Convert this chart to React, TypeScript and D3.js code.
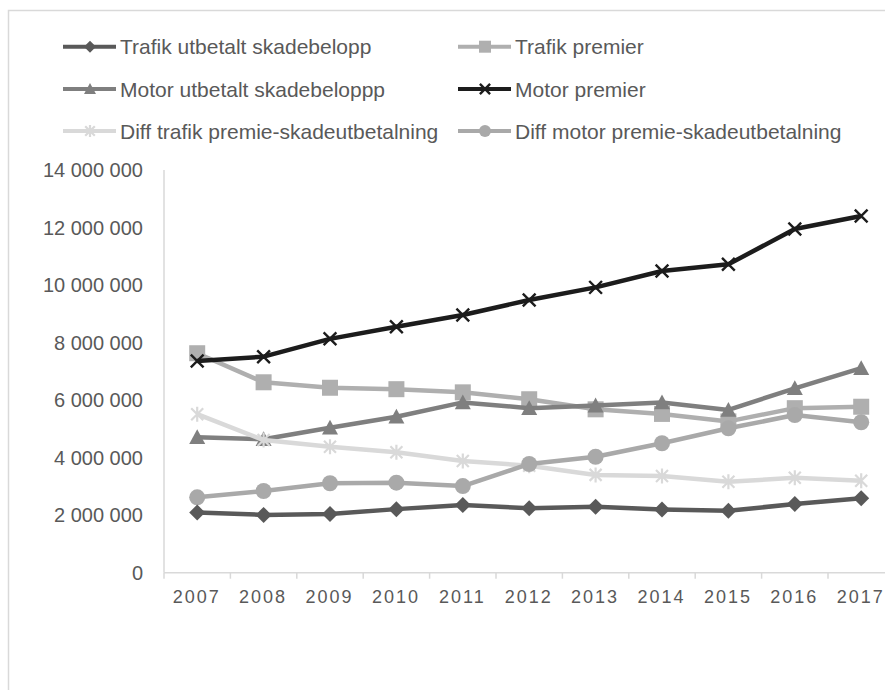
import React from "react";
import * as d3 from "d3";

const years = ["2007","2008","2009","2010","2011","2012","2013","2014","2015","2016","2017"];
const trafikUtbetalt = [2090000,2010000,2040000,2210000,2350000,2240000,2290000,2200000,2150000,2390000,2590000];
const trafikPremier = [7630000,6620000,6430000,6380000,6270000,6030000,5680000,5520000,5260000,5720000,5770000];
const motorUtbetalt = [4710000,4640000,5040000,5420000,5920000,5720000,5810000,5920000,5660000,6410000,7110000];
const motorPremier = [7360000,7510000,8130000,8550000,8960000,9480000,9920000,10490000,10720000,11950000,12400000];
const diffTrafik = [5510000,4610000,4380000,4190000,3880000,3720000,3400000,3360000,3160000,3300000,3200000];
const diffMotor = [2620000,2840000,3110000,3130000,3010000,3780000,4030000,4500000,5020000,5480000,5230000];
const yTicks = [0,2000000,4000000,6000000,8000000,10000000,12000000,14000000];

type Marker = "diamond"|"square"|"triangle"|"x"|"star"|"circle";
const seriesNames = [
  "Trafik utbetalt skadebelopp","Trafik premier",
  "Motor utbetalt skadebeloppp","Motor premier",
  "Diff trafik premie-skadeutbetalning","Diff motor premie-skadeutbetalning",
];
const seriesValues = [trafikUtbetalt, trafikPremier, motorUtbetalt, motorPremier, diffTrafik, diffMotor];
const seriesColors = ["#595959","#afafaf","#7f7f7f","#1c1c1c","#d9d9d9","#a9a9a9"];
const seriesMarkers: Marker[] = ["diamond","square","triangle","x","star","circle"];
// draw order (back to front)
const drawOrder = [1,2,4,5,0,3];

const W = 885, H = 690;
const plotLeft = 164, plotTop = 170, plotBottom = 572.7;
const bandW = 66.4;

function fmt(v: number) {
  return d3.format(",")(v).replace(/,/g, " ");
}

function MarkerShape({ type, x, y, color, s }: { type: Marker; x: number; y: number; color: string; s: number }) {
  const h = s / 2;
  switch (type) {
    case "diamond":
      return <path d={`M${x},${y - h}L${x + h},${y}L${x},${y + h}L${x - h},${y}Z`} fill={color} />;
    case "square":
      return <rect x={x - h} y={y - h} width={s} height={s} fill={color} />;
    case "triangle":
      return <path d={`M${x},${y - h}L${x + h},${y + h * 0.85}L${x - h},${y + h * 0.85}Z`} fill={color} />;
    case "circle":
      return <circle cx={x} cy={y} r={h} fill={color} />;
    case "x": {
      const k = h * 0.85;
      return <path d={`M${x - k},${y - k}L${x + k},${y + k}M${x - k},${y + k}L${x + k},${y - k}`} stroke={color} strokeWidth={2.4} fill="none" />;
    }
    case "star": {
      const k = h * 0.8;
      return <path d={`M${x - k},${y - k}L${x + k},${y + k}M${x - k},${y + k}L${x + k},${y - k}M${x},${y - h}L${x},${y + h}`} stroke={color} strokeWidth={2.2} fill="none" />;
    }
  }
  return null;
}

export default function App() {
  const x = d3.scaleBand<string>().domain(years).range([plotLeft, plotLeft + bandW * years.length]);
  const y = d3.scaleLinear().domain([0, 14000000]).range([plotBottom, plotTop]);
  const cx = (yr: string) => (x(yr) as number) + x.bandwidth() / 2;
  const line = d3.line<number>().x((_, i) => cx(years[i])).y(d => y(d));

  const legendRows = [46.7, 89, 131];
  const legendCols = [63, 458];

  return (
    <svg width={W} height={H} style={{ position: "absolute", left: 0, top: 0, background: "#fff" }}
      fontFamily="'Liberation Sans', Arial, sans-serif">
      <rect x={8.5} y={10.5} width={900} height={700} fill="#fff" stroke="#d9d9d9" strokeWidth={1.5} />
      {/* legend */}
      {seriesNames.map((name, i) => {
        const lx = legendCols[i % 2];
        const ly = legendRows[Math.floor(i / 2)];
        return (
          <g key={name}>
            <line x1={lx} x2={lx + 53} y1={ly} y2={ly} stroke={seriesColors[i]} strokeWidth={4} />
            <MarkerShape type={seriesMarkers[i]} x={lx + 27} y={ly} color={seriesColors[i]} s={12} />
            <text x={lx + 57} y={ly} dominantBaseline="central" fontSize={21} fill="#595959">{name}</text>
          </g>
        );
      })}
      {/* axes */}
      <line x1={plotLeft} x2={plotLeft} y1={plotTop} y2={plotBottom} stroke="#d9d9d9" strokeWidth={1.5} />
      <line x1={plotLeft} x2={W} y1={plotBottom} y2={plotBottom} stroke="#d9d9d9" strokeWidth={1.5} />
      {years.map((yr) => (
        <line key={"t" + yr} x1={(x(yr) as number) + bandW} x2={(x(yr) as number) + bandW} y1={plotBottom} y2={plotBottom + 6} stroke="#d9d9d9" strokeWidth={1.5} />
      ))}
      <line x1={plotLeft} x2={plotLeft} y1={plotBottom} y2={plotBottom + 6} stroke="#d9d9d9" strokeWidth={1.5} />
      {yTicks.map((t) => (
        <text key={t} x={143} y={y(t)} textAnchor="end" dominantBaseline="central" fontSize={20} fill="#595959">{fmt(t)}</text>
      ))}
      {years.map((yr) => (
        <text key={yr} x={cx(yr) - 0.5} y={597} textAnchor="middle" dominantBaseline="central" fontSize={18} letterSpacing={2} fill="#595959">{yr}</text>
      ))}
      {/* series */}
      {drawOrder.map((i) => (
        <g key={"s" + i}>
          <path d={line(seriesValues[i]) as string} fill="none" stroke={seriesColors[i]} strokeWidth={4.5} strokeLinejoin="round" />
          {seriesValues[i].map((v, j) => (
            <MarkerShape key={j} type={seriesMarkers[i]} x={cx(years[j])} y={y(v)} color={seriesColors[i]} s={seriesMarkers[i] === "x" || seriesMarkers[i] === "star" ? 15 : 16} />
          ))}
        </g>
      ))}
    </svg>
  );
}
